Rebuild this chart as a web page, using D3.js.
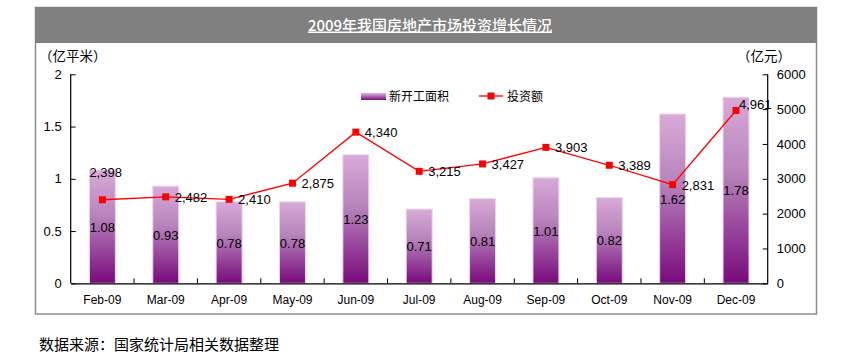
<!DOCTYPE html>
<html><head><meta charset="utf-8">
<script src="https://cdn.jsdelivr.net/npm/d3@7"></script>
<style>
html,body{margin:0;padding:0;background:#fff;}
svg{display:block;font-family:"Liberation Sans",Arial,sans-serif;}
.cjk{font-family:"Noto Sans CJK SC","Liberation Sans",sans-serif;}
</style></head>
<body>
<svg id="chart" width="847" height="357"></svg>
<script>
const categories = ["Feb-09","Mar-09","Apr-09","May-09","Jun-09","Jul-09","Aug-09","Sep-09","Oct-09","Nov-09","Dec-09"];
const areaValues = [1.08,0.93,0.78,0.78,1.23,0.71,0.81,1.01,0.82,1.62,1.78];
const investValues = [2398,2482,2410,2875,4340,3215,3427,3903,3389,2831,4961];
const leftTicks = [0,0.5,1,1.5,2];
const rightTicks = [0,1000,2000,3000,4000,5000,6000];
const title = "2009年我国房地产市场投资增长情况";
const seriesNames = ["新开工面积","投资额"];
const leftUnit = "（亿平米）", rightUnit = "（亿元）";
const source = "数据来源：国家统计局相关数据整理";

const svg = d3.select("#chart");
const plot = {l:70.7, r:767.7, t:74.3, b:283.3};

// frame + banner
svg.append("rect").attr("x",35.5).attr("y",7.5).attr("width",781).attr("height",306.5)
  .attr("fill","none").attr("stroke","#8c8c8c").attr("stroke-width",1.5);
svg.append("rect").attr("x",35).attr("y",7).attr("width",782).attr("height",36).attr("fill","#808080");
svg.append("text").attr("class","cjk").attr("x",430).attr("y",30.5).attr("text-anchor","middle")
  .attr("fill","#fff").attr("font-size",15).attr("font-weight","500")
  .attr("text-decoration","underline").text(title);

const x = d3.scaleBand().domain(categories).range([plot.l,plot.r]).paddingInner(0.59).paddingOuter(0.295);
const yL = d3.scaleLinear().domain([0,2]).range([plot.b,plot.t]);
const yR = d3.scaleLinear().domain([0,6000]).range([plot.b,plot.t]);

const defs = svg.append("defs");
const g1 = defs.append("linearGradient").attr("id","barGrad").attr("x1",0).attr("y1",0).attr("x2",0).attr("y2",1);
g1.append("stop").attr("offset","0%").attr("stop-color","#d8aad8");
g1.append("stop").attr("offset","40%").attr("stop-color","#b884bc");
g1.append("stop").attr("offset","100%").attr("stop-color","#780a7c");
const g2 = defs.append("linearGradient").attr("id","legGrad").attr("x1",0).attr("y1",0).attr("x2",0).attr("y2",1);
g2.append("stop").attr("offset","0%").attr("stop-color","#e0b8e0");
g2.append("stop").attr("offset","100%").attr("stop-color","#780a7c");

// bars
svg.append("g").selectAll("rect").data(areaValues).join("rect")
  .attr("x",(d,i)=>x(categories[i])).attr("y",d=>yL(d))
  .attr("width",x.bandwidth()).attr("height",d=>plot.b-yL(d))
  .attr("fill","url(#barGrad)").attr("stroke","#ecd6ec").attr("stroke-width",1);

// bar labels
svg.append("g").selectAll("text").data(areaValues).join("text")
  .attr("x",(d,i)=>x(categories[i])+x.bandwidth()/2)
  .attr("y",d=>(yL(d)+plot.b)/2+5).attr("text-anchor","middle")
  .attr("font-size",13).attr("fill","#000").text(d=>d3.format(".2f")(d));

// axes
const axL = d3.axisLeft(yL).tickValues(leftTicks).tickSize(-5).tickPadding(9).tickFormat(d=>d);
const gL = svg.append("g").attr("transform",`translate(${plot.l},0)`).call(axL);
const axR = d3.axisRight(yR).tickValues(rightTicks).tickSize(-5).tickPadding(9).tickFormat(d=>d);
const gR = svg.append("g").attr("transform",`translate(${plot.r},0)`).call(axR);
const axB = d3.axisBottom(x).tickSize(0).tickPadding(12);
const gB = svg.append("g").attr("transform",`translate(0,${plot.b})`).call(axB);
[gL,gR,gB].forEach(g=>{
  g.select(".domain").attr("stroke","#000").attr("stroke-width",1.2);
  g.selectAll(".tick line").attr("stroke","#000");
  g.selectAll("text").attr("font-size",13).attr("fill","#000").attr("font-family","Liberation Sans, Arial, sans-serif");
});
gL.select(".domain").attr("d",`M0,${plot.t}V${plot.b}`);
gR.select(".domain").attr("d",`M0,${plot.t}V${plot.b}`);
gB.selectAll("text").attr("font-size",12);
// category separator ticks on x axis
const step = x.step();
svg.append("g").selectAll("line").data(categories.slice(1)).join("line")
  .attr("x1",d=>x(d)-x.paddingInner()*step/2).attr("x2",d=>x(d)-x.paddingInner()*step/2)
  .attr("y1",plot.b).attr("y2",plot.b-5).attr("stroke","#000");

// line
const px = (d,i)=>x(categories[i])+x.bandwidth()/2;
svg.append("path").datum(investValues)
  .attr("d",d3.line().x(px).y(d=>yR(d)))
  .attr("fill","none").attr("stroke","#ff0000").attr("stroke-width",1.3);
svg.append("g").selectAll("rect").data(investValues).join("rect")
  .attr("x",(d,i)=>px(d,i)-3.5).attr("y",d=>yR(d)-3.5).attr("width",7).attr("height",7).attr("fill","#ff0000");
const fmt = d3.format(",");
svg.append("g").selectAll("text").data(investValues).join("text")
  .attr("x",(d,i)=> i===0 ? px(d,i)-13 : (i===investValues.length-1 ? px(d,i)+3 : px(d,i)+9))
  .attr("y",(d,i)=> i===0 ? yR(d)-23 : (i===investValues.length-1 ? yR(d)-1 : yR(d)+5))
  .attr("font-size",13).attr("fill","#000").text(d=>fmt(d));

// legend
svg.append("rect").attr("x",361).attr("y",93).attr("width",25).attr("height",7).attr("fill","url(#legGrad)");
svg.append("text").attr("class","cjk").attr("x",389).attr("y",100.5).attr("font-size",12).text(seriesNames[0]);
svg.append("line").attr("x1",479).attr("x2",503).attr("y1",96).attr("y2",96).attr("stroke","#ff0000").attr("stroke-width",1.3);
svg.append("rect").attr("x",487.5).attr("y",92.5).attr("width",7).attr("height",7).attr("fill","#ff0000");
svg.append("text").attr("class","cjk").attr("x",507).attr("y",100.5).attr("font-size",12).text(seriesNames[1]);

// units
svg.append("text").attr("class","cjk").attr("x",39).attr("y",61).attr("font-size",13.5).text(leftUnit);
svg.append("text").attr("class","cjk").attr("x",737).attr("y",61).attr("font-size",13.5).text(rightUnit);

// source
svg.append("text").attr("class","cjk").attr("x",39).attr("y",349.5).attr("font-size",15).text(source);
</script>
</body></html>
